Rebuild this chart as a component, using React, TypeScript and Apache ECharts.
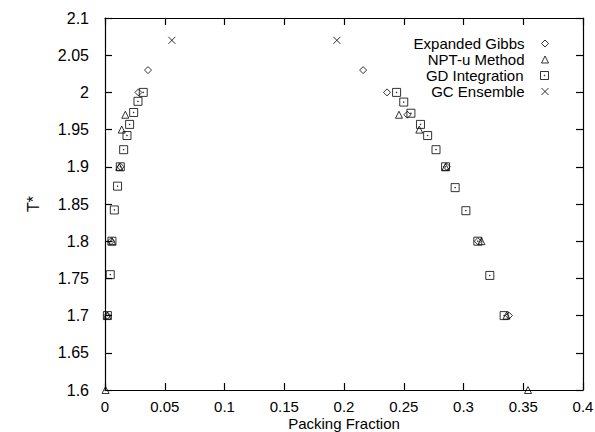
import React, { useEffect, useRef } from "react";
import * as echarts from "echarts";

const xTicks = { min: 0, max: 0.4, interval: 0.05 };
const yTicks = { min: 1.6, max: 2.1, interval: 0.05 };

const seriesNames = ["Expanded Gibbs", "NPT-u Method", "GD Integration", "GC Ensemble"];

const gibbsX = [0.036, 0.028, 0.013, 0.005, 0.002, 0.216, 0.236, 0.253, 0.286, 0.312, 0.338];
const gibbsT = [2.03, 2.0, 1.9, 1.8, 1.7, 2.03, 2.0, 1.97, 1.9, 1.8, 1.7];

const nptX = [0.017, 0.014, 0.012, 0.006, 0.002, 0.0005, 0.246, 0.263, 0.285, 0.315, 0.336, 0.354];
const nptT = [1.97, 1.95, 1.9, 1.8, 1.7, 1.6, 1.97, 1.95, 1.9, 1.8, 1.7, 1.6];

const gdX = [0.032, 0.0276, 0.024, 0.0206, 0.0184, 0.0156, 0.0128, 0.0105, 0.0078, 0.0058, 0.0044, 0.002,
  0.244, 0.25, 0.256, 0.264, 0.27, 0.277, 0.285, 0.293, 0.302, 0.312, 0.322, 0.334];
const gdT = [2.0, 1.988, 1.973, 1.957, 1.942, 1.923, 1.9, 1.874, 1.842, 1.8, 1.755, 1.7,
  2.0, 1.987, 1.972, 1.957, 1.942, 1.923, 1.9, 1.872, 1.841, 1.8, 1.754, 1.7];

const gcX = [0.056, 0.194];
const gcT = [2.07, 2.07];

const FONT = "Liberation Sans";

const symbols = [
  "diamond",
  "triangle",
  "path://M0,0H10V10H0ZM4.6,4.6H5.4V5.4H4.6Z",
  "path://M0,0L10,10M10,0L0,10",
];
const sizes = [7, 7, 8, 7];
const legendCenters = [45, 61, 77, 93];

const zip = (xs: number[], ys: number[]) => xs.map((x, i) => [x, ys[i]]);

export default function App() {
  const ref = useRef<HTMLDivElement>(null);
  useEffect(() => {
    if (!ref.current) return;
    const chart = echarts.init(ref.current, null, { renderer: "svg" });
    const datas = [zip(gibbsX, gibbsT), zip(nptX, nptT), zip(gdX, gdT), zip(gcX, gcT)];
    const markStyle = { color: "transparent", borderColor: "#000", borderWidth: 1 };
    const axisCommon = {
      axisLine: { show: true, onZero: false, lineStyle: { color: "#000", width: 1.2 } },
      axisTick: { show: true, inside: true, length: 7, lineStyle: { color: "#000", width: 1.2 } },
      splitLine: { show: false },
    };
    chart.setOption({
      animation: false,
      backgroundColor: "#fff",
      grid: { left: 105, right: 12, top: 18, bottom: 42, outerBoundsMode: "none", containLabel: false },
      xAxis: [
        {
          type: "value", ...xTicks, position: "bottom", ...axisCommon,
          axisLabel: { color: "#000", fontFamily: FONT, fontSize: 15, lineHeight: 14, margin: 9 },
          name: "Packing Fraction", nameLocation: "middle", nameGap: 26, nameMoveOverlap: false,
          nameTextStyle: { color: "#000", fontFamily: FONT, fontSize: 15, lineHeight: 15 },
        },
        { type: "value", ...xTicks, position: "top", ...axisCommon, axisLabel: { show: false } },
      ],
      yAxis: [
        {
          type: "value", ...yTicks, position: "left", ...axisCommon,
          axisLabel: { color: "#000", fontFamily: FONT, fontSize: 16, margin: 16 },
          name: "T*", nameLocation: "middle", nameGap: 64, nameRotate: 90, nameMoveOverlap: false,
          nameTextStyle: { color: "#000", fontFamily: FONT, fontSize: 16 },
        },
        { type: "value", ...yTicks, position: "right", ...axisCommon, axisLabel: { show: false } },
      ],
      legend: seriesNames.map((n, i) => ({
        data: [{ name: n, icon: symbols[i], itemStyle: markStyle }],
        orient: "horizontal",
        align: "right",
        right: 46,
        top: legendCenters[i] - 9,
        padding: 0,
        itemWidth: sizes[i],
        itemHeight: sizes[i],
        selectedMode: false,
        itemStyle: markStyle,
        textStyle: { color: "#000", fontFamily: FONT, fontSize: 15, padding: [0, 12, 0, 0] },
      })),
      series: seriesNames.map((n, i) => ({
        name: n,
        type: "scatter",
        data: datas[i],
        symbol: symbols[i],
        symbolSize: sizes[i],
        clip: false,
        itemStyle: markStyle,
      })),
    });
    return () => chart.dispose();
  }, []);
  return <div ref={ref} style={{ position: "fixed", left: 0, top: 0, width: 595, height: 432 }} />;
}
